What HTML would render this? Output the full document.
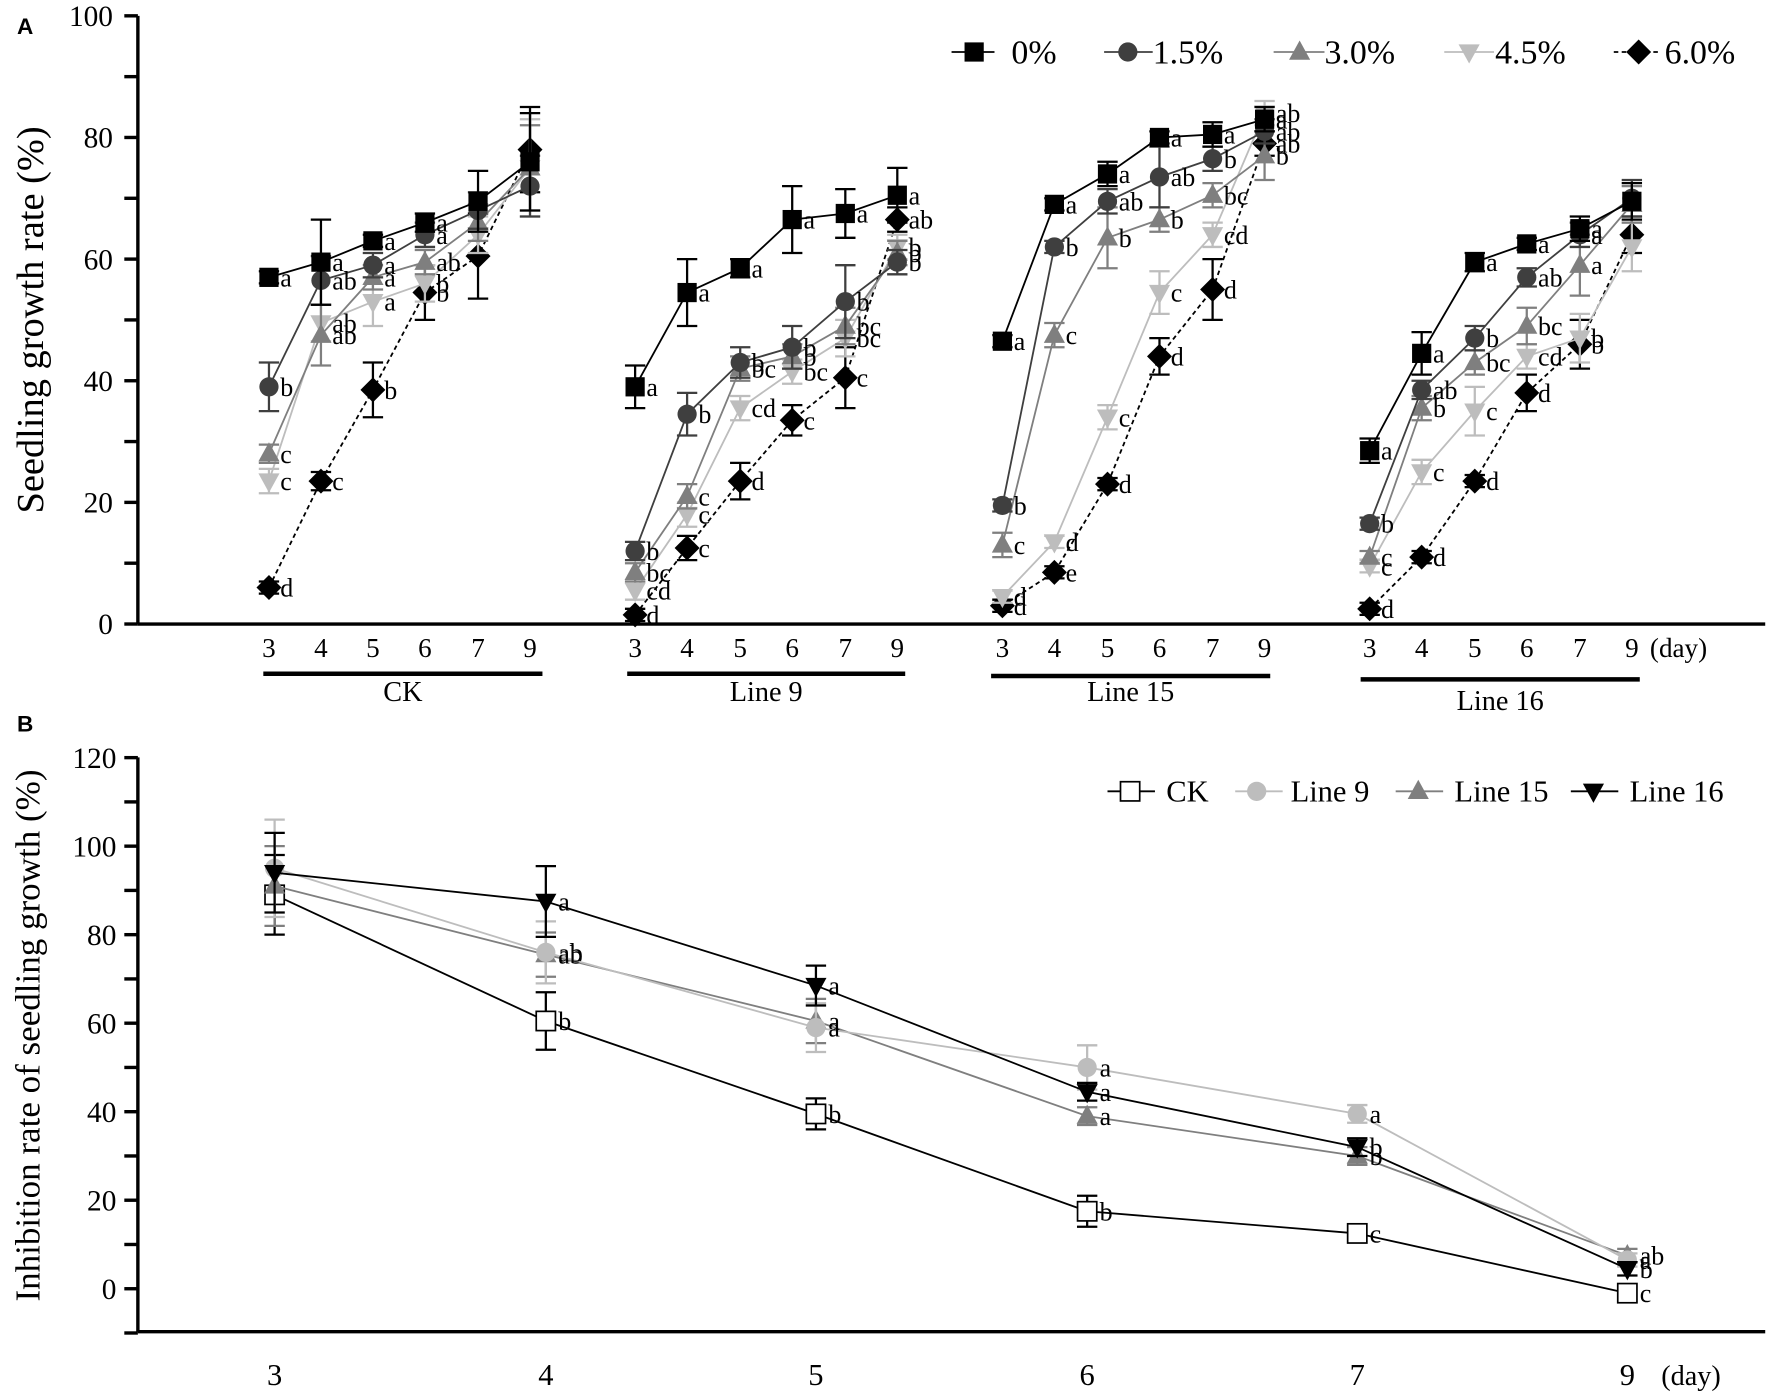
<!DOCTYPE html>
<html><head><meta charset="utf-8"><style>
html,body{margin:0;padding:0;background:#fff;}
svg{display:block;}
svg text{font-family:"Liberation Serif","Times New Roman",serif;}
svg text.sans{font-family:"Liberation Sans",Arial,sans-serif;}
</style></head><body>
<svg id="chart" width="1772" height="1395" viewBox="0 0 1568 1234" preserveAspectRatio="none" xmlns="http://www.w3.org/2000/svg" font-family="Liberation Serif, serif">
<g id="gA"></g>
<g id="gB"></g>
</svg>
<script>
// ---------- Panel A data ----------
const days = ["3","4","5","6","7","9"];
const groups = ["CK","Line 9","Line 15","Line 16"];
const concLabels = ["0%","1.5%","3.0%","4.5%","6.0%"];
const yTicksA = [0,20,40,60,80,100];
const ckVals = [[57,59.5,63,66,69.5,76],[39,56.5,59,64,68,72],[28,47.5,57,59.5,66,75],[23.5,49.5,53,56,64,75],[6,23.5,38.5,54.5,60.5,78]];
const l9Vals = [[39,54.5,58.5,66.5,67.5,70.5],[12,34.5,43,45.5,53,59.5],[8.5,21,42,44,49,61],[5.5,18,35.5,41.5,47,62],[1.5,12.5,23.5,33.5,40.5,66.5]];
const l15Vals = [[46.5,69,74,80,80.5,83],[19.5,62,69.5,73.5,76.5,81],[13,47.5,63.5,66.5,70.5,77],[4.5,13.5,34,54.5,64,84],[3,8.5,23,44,55,79]];
const l16Vals = [[28.5,44.5,59.5,62.5,65,69.5],[16.5,38.5,47,57,64,70],[11,35.5,43,49,59,69],[9.5,25,35,44,47,62],[2.5,11,23.5,38,46,64]];
const ckErr = [[1,7,1,1.5,5,8],[4,4,2,2,3,5],[1.5,5,2,2,3,7],[2,3,4,3,3,8],[1,1.5,4.5,4.5,7,7]];
const l9Err = [[3.5,5.5,1.5,5.5,4,4.5],[1.5,3.5,2.5,3.5,6,2],[1.5,2,2,2,3,2],[1.5,2,2,2,3,2],[1,2,3,2.5,5,2]];
const l15Err = [[1,1,2,1,2,2],[1,1,2,5,2,2],[2,2,5,2,2,4],[1,1,2,3.5,2,2],[1,1,1,3,5,2]];
const l16Err = [[2,3.5,1.5,1,2,3],[1,1.5,2,1.5,2,3],[1,2,2,3,5,3],[1,2,4,2,4,4],[1,1,1,3,4,3]];
const ckLet = [["a","a","a","a","",""],["b","ab","a","a","",""],["c","ab","a","ab","",""],["c","ab","a","b","",""],["d","c","b","b","",""]];
const l9Let = [["a","a","a","a","a","a"],["b","b","b","b","b","b"],["bc","c","bc","b","bc","b"],["cd","c","cd","bc","bc","b"],["d","c","d","c","c","ab"]];
const l15Let = [["a","a","a","a","a","a"],["b","b","ab","ab","b","ab"],["c","c","b","b","bc","b"],["d","d","c","c","cd","ab"],["d","e","d","d","d","ab"]];
const l16Let = [["a","a","a","a","a",""],["b","ab","b","ab","a",""],["c","b","bc","bc","a",""],["c","c","c","cd","b",""],["d","d","d","d","b",""]];
// ---------- Panel B data ----------
const linesB = ["CK","Line 9","Line 15","Line 16"];
const yTicksB = [0,20,40,60,80,100,120];
const bVals = [[89,60.5,39.5,17.5,12.5,-1],[95,76,59,50,39.5,6.5],[91,75.5,60.5,39,30,7.5],[94,87.5,68.5,44.5,32,4.5]];
const bErr = [[9,6.5,3.5,3.5,1.5,1.5],[11,7,5.5,5,2,1.5],[9,5,5,2,2,1.5],[9,8,4.5,2,2,1.5]];
const bLet = [["","b","b","b","c","c"],["","ab","a","a","a","a"],["","ab","a","a","b","ab"],["","a","a","a","b","b"]];

const NS="http://www.w3.org/2000/svg";
const SERIF="Liberation Serif, Times New Roman, serif";
function mk(parent,tag,attrs,text){const e=document.createElementNS(NS,tag);for(const k in attrs)e.setAttribute(k,attrs[k]);if(tag==="text"&&!attrs["font-family"])e.setAttribute("font-family",SERIF);if(text!==undefined)e.textContent=text;parent.appendChild(e);return e;}

function marker(g,type,x,y,color,s){
  let e;
  if(type==="square") e=mk(g,"rect",{x:x-s,y:y-s,width:2*s,height:2*s,fill:color});
  else if(type==="osquare") e=mk(g,"rect",{x:x-s,y:y-s,width:2*s,height:2*s,fill:"#fff",stroke:color,"stroke-width":1.5});
  else if(type==="circle") e=mk(g,"circle",{cx:x,cy:y,r:s,fill:color});
  else if(type==="tri") e=mk(g,"polygon",{points:`${x},${y-s*1.2} ${x-s*1.1},${y+s*0.8} ${x+s*1.1},${y+s*0.8}`,fill:color});
  else if(type==="dtri") e=mk(g,"polygon",{points:`${x},${y+s*1.2} ${x-s*1.1},${y-s*0.8} ${x+s*1.1},${y-s*0.8}`,fill:color});
  else e=mk(g,"polygon",{points:`${x},${y-s*1.3} ${x+s*1.3},${y} ${x},${y+s*1.3} ${x-s*1.3},${y}`,fill:color});
  return e;
}

// ---------- Panel A ----------
(function(){
  const g=document.getElementById("gA");
  const yA=v=>552-5.38*v;
  const groupX=[[238,284,330,376,423,469],[562,608,655,701,748,794],[887,933,980,1026,1073,1119],[1212,1258,1305,1351,1398,1444]];
  const underline=[[233,480,596,612],[555,801,596,612],[877,1124,598,612],[1204,1451,601,620]];
  const colors=["#000","#3f3f3f","#7f7f7f","#bdbdbd","#000"];
  const types=["square","circle","tri","dtri","diamond"];
  const vals=[ckVals,l9Vals,l15Vals,l16Vals], errs=[ckErr,l9Err,l15Err,l16Err], lets=[ckLet,l9Let,l15Let,l16Let];
  let t=mk(g,"text",{x:15,y:30,"font-family":"Liberation Sans, Arial, sans-serif","class":"sans","font-weight":"bold","font-size":20});t.textContent="A";
  
  const ax=mk(g,"g",{});
  mk(ax,"line",{x1:122,y1:14,x2:122,y2:552,stroke:"#000","stroke-width":3});
  mk(ax,"line",{x1:122,y1:552,x2:1562,y2:552,stroke:"#000","stroke-width":3});
  for(let v=0;v<=100;v+=10){mk(ax,"line",{x1:122,y1:yA(v),x2:110,y2:yA(v),stroke:"#000","stroke-width":3});}
  yTicksA.forEach(v=>{const e=mk(ax,"text",{x:100,y:yA(v)+9,"text-anchor":"end","font-size":26},String(v));});
  const yt=mk(g,"text",{transform:"translate(38,283) rotate(-90)","text-anchor":"middle","font-size":34},"Seedling growth rate (%)");
  
  groups.forEach((gn,gi)=>{
    const gg=mk(g,"g",{});
    days.forEach((d,i)=>{mk(gg,"text",{x:groupX[gi][i],y:581,"text-anchor":"middle","font-size":24},d);});
    const u=underline[gi];
    mk(gg,"line",{x1:u[0],y1:u[2],x2:u[1],y2:u[2],stroke:"#000","stroke-width":4});
    const lab=mk(gg,"text",{x:(u[0]+u[1])/2,y:u[3]+8,"text-anchor":"middle","font-size":25},gn);
    
    for(let s=4;s>=0;s--){
      const sg=mk(gg,"g",{});
      const col=colors[s];
      const pts=vals[gi][s].map((v,i)=>groupX[gi][i]+","+yA(v)).join(" ");
      const pl=mk(sg,"polyline",{points:pts,fill:"none",stroke:col,"stroke-width":1.6});
      if(s===4)pl.setAttribute("stroke-dasharray","4,3");
      vals[gi][s].forEach((v,i)=>{
        const x=groupX[gi][i],e=errs[gi][s][i];
        mk(sg,"path",{d:`M${x},${yA(v+e)}V${yA(v-e)}M${x-9},${yA(v+e)}h18M${x-9},${yA(v-e)}h18`,stroke:col,"stroke-width":2,fill:"none"});
        const m=marker(sg,types[s],x,yA(v),col,8.5);
        
        const l=lets[gi][s][i];
        if(l)mk(sg,"text",{x:x+10,y:yA(v)+8,"font-size":23},l);
      });
    }
  });
  mk(g,"text",{x:1460,y:581,"font-size":24},"(day)");
  const lg=mk(g,"g",{});
  const lx=[[842,880,862,895],[977,1020,998,1020],[1127,1172,1150,1172],[1278,1322,1300,1323],[1428,1470,1450,1473]];
  concLabels.forEach((c,s)=>{
    const eg=mk(lg,"g",{});
    const l=mk(eg,"line",{x1:lx[s][0],y1:46,x2:lx[s][1],y2:46,stroke:colors[s],"stroke-width":1.6});
    if(s===4)l.setAttribute("stroke-dasharray","4,3");
    marker(eg,types[s],lx[s][2],46,colors[s],8.5);
    mk(eg,"text",{x:lx[s][3],y:56,"font-size":30},c);
  });
})();

// ---------- Panel B ----------
(function(){
  const g=document.getElementById("gB");
  const yB=v=>1140-3.915*v;
  const xB=[243,483,722,962,1201,1440];
  const colors=["#000","#bdbdbd","#7f7f7f","#000"];
  const types=["osquare","circle","tri","dtri"];
  let t=mk(g,"text",{x:15,y:647,"font-family":"Liberation Sans, Arial, sans-serif","class":"sans","font-weight":"bold","font-size":20},"B");
  
  const ax=mk(g,"g",{});
  mk(ax,"line",{x1:122,y1:670,x2:122,y2:1178,stroke:"#000","stroke-width":3});
  mk(ax,"line",{x1:122,y1:1178,x2:1562,y2:1178,stroke:"#000","stroke-width":3});
  for(let v=-10;v<=120;v+=10){mk(ax,"line",{x1:122,y1:yB(v),x2:110,y2:yB(v),stroke:"#000","stroke-width":3});}
  yTicksB.forEach(v=>{const e=mk(ax,"text",{x:103,y:yB(v)+9,"text-anchor":"end","font-size":26},String(v));});
  const yt=mk(g,"text",{transform:"translate(35,916) rotate(-90)","text-anchor":"middle","font-size":31},"Inhibition rate of seedling growth (%)");
  
  days.forEach((d,i)=>{const e=mk(g,"text",{x:xB[i],y:1225,"text-anchor":"middle","font-size":27},d);});
  mk(g,"text",{x:1470,y:1225,"font-size":25},"(day)");
  [0,2,1,3].forEach(s=>{
    const sg=mk(g,"g",{});
    const col=colors[s];
    mk(sg,"polyline",{points:bVals[s].map((v,i)=>xB[i]+","+yB(v)).join(" "),fill:"none",stroke:col,"stroke-width":1.6});
    bVals[s].forEach((v,i)=>{
      const x=xB[i],e=bErr[s][i];
      mk(sg,"path",{d:`M${x},${yB(v+e)}V${yB(v-e)}M${x-9},${yB(v+e)}h18M${x-9},${yB(v-e)}h18`,stroke:col,"stroke-width":2,fill:"none"});
      const m=marker(sg,types[s],x,yB(v),col,8.5);
      
      if(bLet[s][i])mk(sg,"text",{x:x+11,y:yB(v)+8,"font-size":23},bLet[s][i]);
    });
  });
  const lg=mk(g,"g",{});
  const lx=[[980,1022,1000,1032],[1093,1135,1112,1142],[1235,1277,1255,1287],[1390,1432,1410,1442]];
  linesB.forEach((c,s)=>{
    const eg=mk(lg,"g",{});
    mk(eg,"line",{x1:lx[s][0],y1:700,x2:lx[s][1],y2:700,stroke:colors[s],"stroke-width":1.6});
    marker(eg,types[s],lx[s][2],700,colors[s],8.5);
    mk(eg,"text",{x:lx[s][3],y:709,"font-size":27},c);
  });
})();
</script>
</body></html>
